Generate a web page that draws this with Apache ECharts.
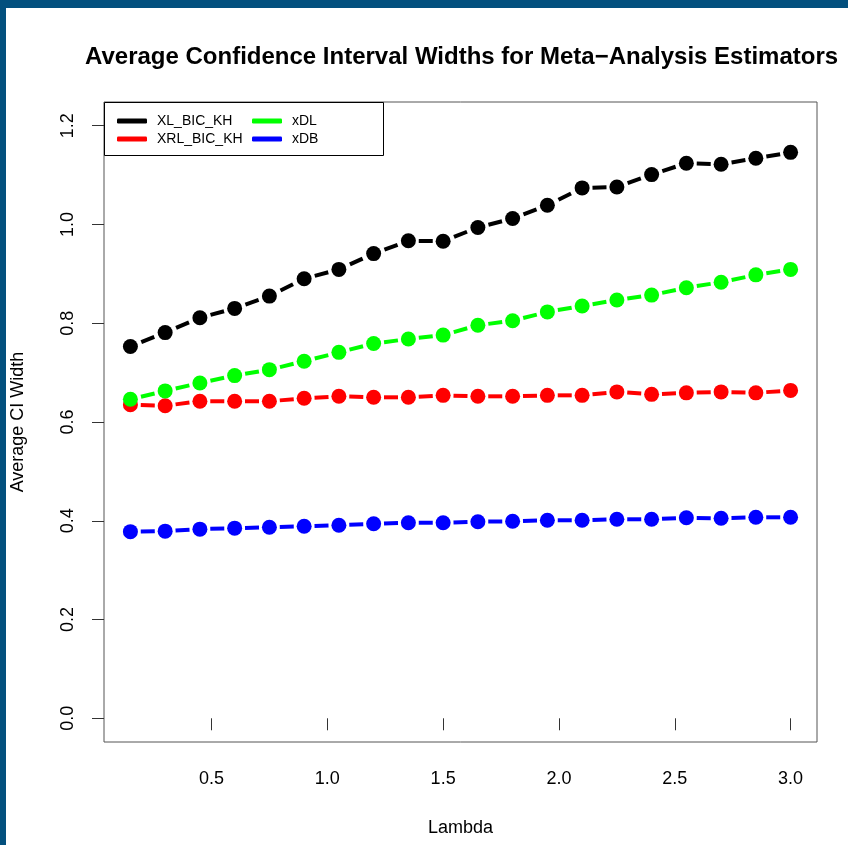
<!DOCTYPE html>
<html>
<head>
<meta charset="utf-8">
<title>Average CI Widths</title>
<script src="https://cdn.jsdelivr.net/npm/echarts@6/dist/echarts.min.js"></script>
<style>
  html, body { margin: 0; padding: 0; }
  #frame {
    width: 848px;
    height: 845px;
    box-sizing: border-box;
    border-left: 6px solid #03507e;
    border-top: 8px solid #03507e;
    background: #fff;
  }
  #main { width: 842px; height: 837px; }
</style>
</head>
<body>
<div id="frame"><div id="main"></div></div>
<script>
// lambda values (x)
const lambda = [0.15, 0.30, 0.45, 0.60, 0.75, 0.90, 1.05, 1.20, 1.35, 1.50,
                1.65, 1.80, 1.95, 2.10, 2.25, 2.40, 2.55, 2.70, 2.85, 3.00]

// average CI widths
const xlBicKh = [0.753, 0.781, 0.811, 0.830, 0.855, 0.890, 0.909, 0.941, 0.967, 0.966,
                 0.994, 1.012, 1.039, 1.074, 1.076, 1.101, 1.124, 1.122, 1.134, 1.146]
const xrlBicKh = [0.635, 0.633, 0.642, 0.642, 0.642, 0.648, 0.652, 0.650, 0.650, 0.654,
                  0.652, 0.652, 0.654, 0.654, 0.661, 0.656, 0.659, 0.661, 0.659, 0.664]
const xDL = [0.646, 0.663, 0.679, 0.694, 0.706, 0.723, 0.741, 0.759, 0.768, 0.776,
             0.796, 0.805, 0.823, 0.835, 0.847, 0.857, 0.872, 0.883, 0.898, 0.909]
const xDB = [0.378, 0.379, 0.383, 0.385, 0.387, 0.389, 0.391, 0.394, 0.396, 0.396,
             0.398, 0.399, 0.401, 0.401, 0.403, 0.403, 0.406, 0.405, 0.407, 0.407]

// tick marks
const xTicks = [0.5, 1.0, 1.5, 2.0, 2.5, 3.0]
const yTicks = [0.0, 0.2, 0.4, 0.6, 0.8, 1.0, 1.2]

const FONT = '"Liberation Sans", Arial, Helvetica, sans-serif'
const DASH = 14   // length of the one dash drawn between two points

// points: scatter series
const makePoints = (name, vals, color) => ({
  name: name,
  type: 'scatter',
  data: lambda.map((x, i) => [x, vals[i]]),
  symbol: 'circle',
  symbolSize: 15,
  itemStyle: { color: color, opacity: 1 },
  emphasis: { disabled: true },
  z: 4
})

// dashed connecting line: one centred dash per segment (like R type="b", lty=2)
const makeDashes = (name, vals, color) => ({
  name: name,
  type: 'custom',
  itemStyle: { color: color },
  data: vals.slice(0, -1).map((v, i) => [lambda[i], v, lambda[i + 1], vals[i + 1]]),
  renderItem: (params, api) => {
    const p0 = api.coord([api.value(0), api.value(1)])
    const p1 = api.coord([api.value(2), api.value(3)])
    const dx = p1[0] - p0[0]
    const dy = p1[1] - p0[1]
    const len = Math.sqrt(dx * dx + dy * dy)
    const ux = dx / len
    const uy = dy / len
    const mx = (p0[0] + p1[0]) / 2
    const my = (p0[1] + p1[1]) / 2
    return {
      type: 'line',
      shape: {
        x1: mx - ux * DASH / 2, y1: my - uy * DASH / 2,
        x2: mx + ux * DASH / 2, y2: my + uy * DASH / 2
      },
      style: { stroke: color, lineWidth: 4 }
    }
  },
  emphasis: { disabled: true },
  z: 3
})

const legendBase = {
  orient: 'vertical',
  padding: 0,
  itemGap: 4,
  itemWidth: 30,
  itemHeight: 5,
  icon: 'roundRect',
  textStyle: { fontSize: 14, lineHeight: 14, fontFamily: FONT, color: '#000', padding: [0, 0, 0, 5] },
  selectedMode: false,
  top: 106,
  z: 5
}

const chart = echarts.init(document.getElementById('main'))
const option = {
  animation: false,
  backgroundColor: '#fff',
  title: {
    text: 'Average Confidence Interval Widths for Meta\u2212Analysis Estimators',
    left: 79,
    top: 37,
    padding: 0,
    textStyle: { fontSize: 24, fontWeight: 'bold', fontFamily: FONT, color: '#000' }
  },
  legend: [
    Object.assign({}, legendBase, { left: 111, data: ['XL_BIC_KH', 'XRL_BIC_KH'] }),
    Object.assign({}, legendBase, { left: 246, data: ['xDL', 'xDB'] })
  ],
  graphic: [{
    type: 'rect',
    left: 98,
    top: 94,
    z: 1,
    shape: { width: 279, height: 53 },
    style: { fill: '#fff', stroke: '#000', lineWidth: 1 }
  }],
  grid: {
    left: 98,
    right: 31,
    top: 94,
    bottom: 103,
    show: true,
    borderColor: '#555',
    borderWidth: 1,
    outerBoundsMode: 'none'
  },
  xAxis: {
    type: 'value',
    min: 0.036,
    max: 3.114,
    name: 'Lambda',
    nameLocation: 'middle',
    nameGap: 77,
    nameTextStyle: { fontSize: 18, fontFamily: FONT, color: '#000' },
    axisLine: { show: false },
    splitLine: { show: false },
    axisTick: { show: true, length: 12, customValues: xTicks, lineStyle: { color: '#333' } },
    axisLabel: {
      customValues: xTicks,
      margin: 28,
      fontSize: 18,
      fontFamily: FONT,
      color: '#000',
      formatter: (v) => v.toFixed(1)
    }
  },
  yAxis: {
    type: 'value',
    min: -0.048,
    max: 1.248,
    name: 'Average CI Width',
    nameLocation: 'middle',
    nameGap: 77,
    nameRotate: 90,
    nameTextStyle: { fontSize: 18, fontFamily: FONT, color: '#000' },
    axisLine: { show: false },
    splitLine: { show: false },
    axisTick: { show: true, length: 12, customValues: yTicks, lineStyle: { color: '#333' } },
    axisLabel: {
      customValues: yTicks,
      rotate: 90,
      margin: 27,
      fontSize: 18,
      fontFamily: FONT,
      color: '#000',
      formatter: (v) => v.toFixed(1)
    }
  },
  series: [
    makeDashes('XL_BIC_KH', xlBicKh, '#000000'),
    makeDashes('XRL_BIC_KH', xrlBicKh, '#ff0000'),
    makeDashes('xDL', xDL, '#00ff00'),
    makeDashes('xDB', xDB, '#0000ff'),
    makePoints('XL_BIC_KH', xlBicKh, '#000000'),
    makePoints('XRL_BIC_KH', xrlBicKh, '#ff0000'),
    makePoints('xDL', xDL, '#00ff00'),
    makePoints('xDB', xDB, '#0000ff')
  ]
}
chart.setOption(option)
</script>
</body>
</html>
